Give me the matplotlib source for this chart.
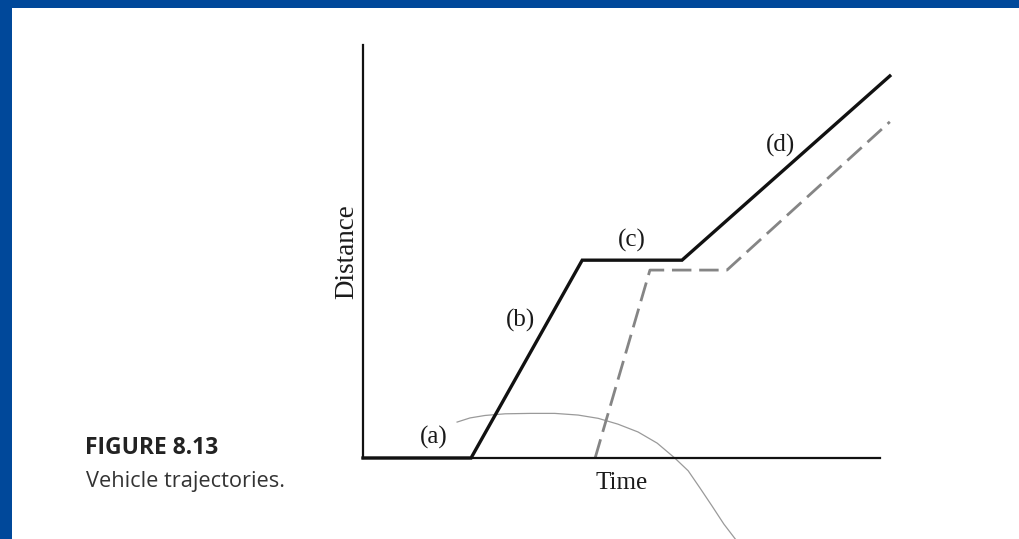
"""Vehicle trajectories figure (time-distance diagram) on a slide panel."""

import matplotlib
matplotlib.use("Agg")
import matplotlib.pyplot as plt
from matplotlib.patches import Rectangle

# Leading vehicle: (a) stopped, (b) accelerating, (c) queued, (d) leaving.
lead_time = [0.0, 2.09, 4.24, 6.17, 10.19]
lead_dist = [0.0, 0.0, 4.79, 4.79, 9.25]

# Following vehicle (dashed).
follow_time = [4.49, 5.55, 7.04, 10.19]
follow_dist = [0.0, 4.55, 4.55, 8.14]

# Stray thin pen stroke across the lower part of the scan.
stroke_time = [1.82, 2.07, 2.36, 2.75, 3.23, 3.71, 4.16, 4.55, 4.93,
               5.32, 5.69, 6.03, 6.29, 6.52, 6.75, 6.98, 7.20]
stroke_dist = [0.87, 0.97, 1.03, 1.07, 1.08, 1.08, 1.04, 0.96, 0.82,
               0.63, 0.36, 0.0, -0.31, -0.73, -1.16, -1.60, -1.96]

segment_labels = ["(a)", "(b)", "(c)", "(d)"]
label_time = [1.37, 3.04, 5.20, 8.07]
label_dist = [0.50, 3.33, 5.27, 7.57]

SERIF = ["Liberation Serif", "DejaVu Serif"]
SANS = ["Open Sans", "Noto Sans", "DejaVu Sans"]

fig = plt.figure(figsize=(10.2, 5.39), dpi=100, facecolor="#00489a")
fig.patches.append(Rectangle((12 / 1020, 0), 1 - 12 / 1020, 531 / 539,
                             transform=fig.transFigure, facecolor="white",
                             edgecolor="none", zorder=-5))

ax = fig.add_axes([363 / 1020, 81 / 539, 517 / 1020, 413 / 539])
ax.set_facecolor("none")
ax.set_xlim(0, 10)
ax.set_ylim(0, 10)
for side in ("top", "right"):
    ax.spines[side].set_visible(False)
for side in ("left", "bottom"):
    ax.spines[side].set_linewidth(1.6)
    ax.spines[side].set_color("#111111")
ax.set_xticks([])
ax.set_yticks([])

ax.plot(lead_time, lead_dist, color="#111111", lw=2.4,
        solid_joinstyle="miter", clip_on=False, zorder=3)
ax.plot(follow_time, follow_dist, color="#858585", lw=2.0,
        dashes=(7, 2.8), clip_on=False, zorder=2)
ax.plot(stroke_time, stroke_dist, color="#9a9a9a", lw=0.9,
        clip_on=False, zorder=1)

for text, t, d in zip(segment_labels, label_time, label_dist):
    ax.text(t, d, text, ha="center", va="center", fontsize=18,
            family=SERIF, color="#1a1a1a")

ax.set_xlabel("Time", fontsize=18, family=SERIF, color="#1a1a1a",
              labelpad=10)
ax.set_ylabel("Distance", fontsize=19.5, family=SERIF, color="#1a1a1a",
              labelpad=3)

fig.text(85 / 1020, 1 - 448 / 539, "FIGURE 8.13", fontsize=16.5,
         fontweight="bold", family=SANS, color="#222222", va="center")
fig.text(86 / 1020, 1 - 482 / 539, "Vehicle trajectories.", fontsize=15.7,
         family=SANS, color="#333333", va="center")

fig.savefig("out.png", dpi=100, facecolor=fig.get_facecolor())
